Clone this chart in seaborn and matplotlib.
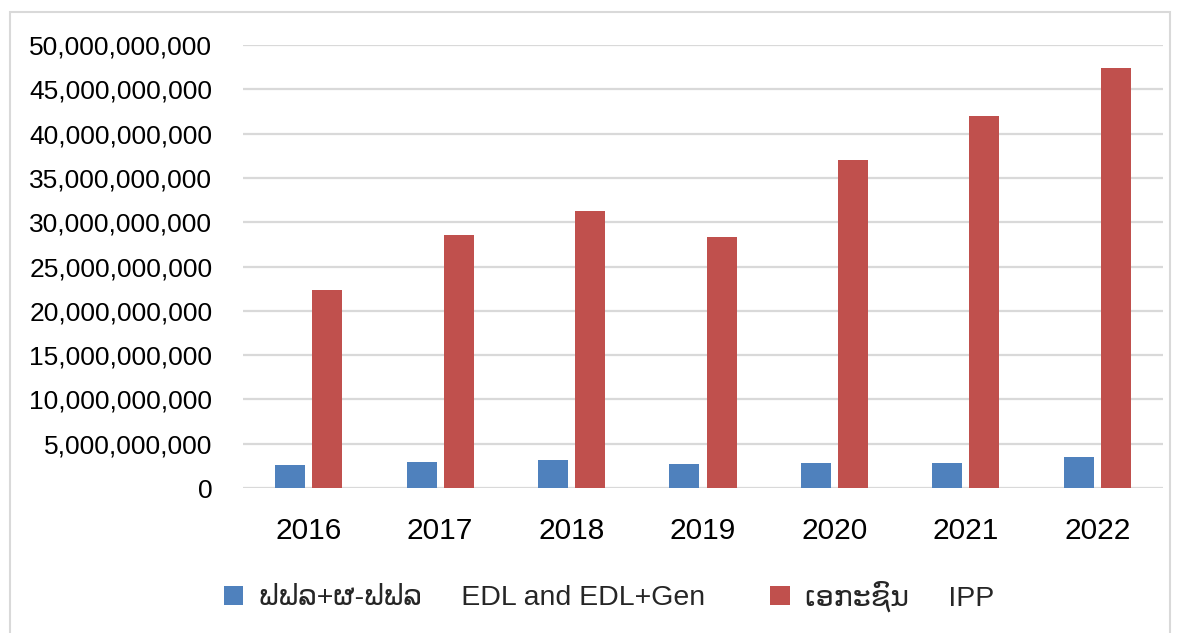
import pandas as pd
import matplotlib
matplotlib.use('Agg')
import matplotlib.pyplot as plt
import matplotlib.ticker as mticker
from matplotlib.patches import Rectangle
import seaborn as sns

# values
years = ['2016', '2017', '2018', '2019', '2020', '2021', '2022']
edl = [2.6e9, 2.93e9, 3.16e9, 2.7e9, 2.8e9, 2.85e9, 3.5e9]
ipp = [22.35e9, 28.55e9, 31.25e9, 28.33e9, 37.0e9, 42.0e9, 47.4e9]
series_names = ['ຟຟລ+ຜ-ຟຟລ     EDL and EDL+Gen', 'ເອກະຊົນ     IPP']
colors = ['#4f81bd', '#c0504d']

data = pd.DataFrame({
    'year': years * 2,
    'value': edl + ipp,
    'series': [series_names[0]] * len(years) + [series_names[1]] * len(years),
})

sns.set_theme(style='white')
plt.rcParams['font.family'] = ['Liberation Sans', 'DejaVu Sans']

fig = plt.figure(figsize=(11.79, 6.33), dpi=100)
ax = fig.add_axes([243 / 1179, 1 - 488 / 633, 920 / 1179, 443 / 633])

sns.barplot(data=data, x='year', y='value', hue='series', palette=colors,
            width=0.565, gap=0.19, ax=ax, saturation=1, linewidth=0)

ax.set_ylim(0, 50e9)
ax.set_yticks([i * 5e9 for i in range(11)])
ax.yaxis.set_major_formatter(mticker.FuncFormatter(lambda v, p: f'{v:,.0f}'))
ax.grid(axis='y', color='#d9d9d9', linewidth=1.6)
ax.set_axisbelow(True)
for s in ax.spines.values():
    s.set_visible(False)
ax.tick_params(axis='both', length=0, colors='black')
ax.tick_params(axis='y', pad=22, labelsize=19)
ax.tick_params(axis='x', pad=21, labelsize=21.5)
ax.set_xlabel('')
ax.set_ylabel('')

handles, labels = ax.get_legend_handles_labels()
ax.get_legend().remove()
fig.legend(handles, labels, loc='center', bbox_to_anchor=(609 / 1179, 1 - 596 / 633),
           ncol=2, frameon=False, fontsize=20.5, handlelength=0.68, handleheight=0.68,
           handletextpad=0.55, columnspacing=2.3)

# outer chart border
fig.patches.append(Rectangle((10 / 1179, -0.05), 1160 / 1179, 1.05 - 12 / 633,
                             transform=fig.transFigure, fill=False,
                             edgecolor='#d9d9d9', linewidth=1.5))

fig.savefig('out.png', dpi=100)
